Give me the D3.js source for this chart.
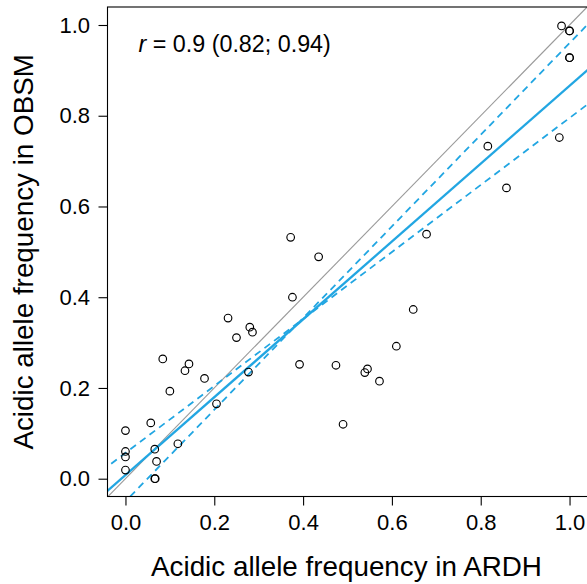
<!DOCTYPE html>
<html>
<head>
<meta charset="utf-8">
<script src="https://cdn.jsdelivr.net/npm/d3@7"></script>
<style>
  html, body { margin: 0; padding: 0; background: #fff; }
  svg { display: block; font-family: "Liberation Sans", Arial, Helvetica, sans-serif; }
</style>
</head>
<body>
<svg id="chart" width="587" height="584"></svg>
<script>
// ---- data ----
const ardh = [0.982, 1.0, 1.0, 1.0, 1.0, 0.816, 0.977, 0.858, 0.678, 0.372,
              0.435, 0.376, 0.648, 0.231, 0.280, 0.286, 0.250, 0.610, 0.084, 0.143,
              0.392, 0.134, 0.474, 0.545, 0.539, 0.277, 0.178, 0.572, 0.100, 0.205,
              0.490, 0.057, 0.0, 0.118, 0.066, 0.0, 0.0, 0.070, 0.0, 0.066, 0.067];
const obsm = [0.998, 0.987, 0.987, 0.928, 0.928, 0.733, 0.752, 0.641, 0.539, 0.532,
              0.489, 0.400, 0.373, 0.354, 0.334, 0.323, 0.311, 0.292, 0.264, 0.253,
              0.252, 0.238, 0.250, 0.242, 0.234, 0.235, 0.221, 0.215, 0.193, 0.165,
              0.120, 0.123, 0.106, 0.077, 0.065, 0.060, 0.048, 0.038, 0.019, 0.0, 0.0];
// fitted line and interval lines: [intercept, slope]
const fitLine = [0.008, 0.858];
const lowerSlopeLine = [0.0567, 0.7384];
const upperSlopeLine = [-0.050, 1.010];
const identityLine = [0, 1];
const xTicks = [0, 0.2, 0.4, 0.6, 0.8, 1.0];
const yTicks = [0, 0.2, 0.4, 0.6, 0.8, 1.0];
const xDomain = [-0.04, 1.04];
const yDomain = [-0.04, 1.04];
const rLabel = ["r", " = 0.9 (0.82; 0.94)"];
const xTitle = "Acidic allele frequency in ARDH";
const yTitle = "Acidic allele frequency in OBSM";

// ---- drawing ----
const svg = d3.select("#chart");
const x = d3.scaleLinear().domain(xDomain).range([107.7, 587.3]);
const y = d3.scaleLinear().domain(yDomain).range([496.85, 6.85]);
const blue = "#22a6e2";

svg.append("defs").append("clipPath").attr("id", "plotclip")
  .append("rect")
  .attr("x", x(xDomain[0])).attr("y", y(yDomain[1]))
  .attr("width", x(xDomain[1]) - x(xDomain[0]))
  .attr("height", y(yDomain[0]) - y(yDomain[1]));

const plot = svg.append("g").attr("clip-path", "url(#plotclip)");

function drawLine(p, opts) {
  const xs = [xDomain[0] - 0.1, xDomain[1] + 0.1];
  const l = plot.append("line")
    .attr("x1", x(xs[0])).attr("y1", y(p[0] + p[1] * xs[0]))
    .attr("x2", x(xs[1])).attr("y2", y(p[0] + p[1] * xs[1]))
    .attr("stroke", opts.color)
    .attr("stroke-width", opts.width);
  if (opts.dash) l.attr("stroke-dasharray", opts.dash);
}

drawLine(identityLine, { color: "#9a9a9a", width: 1.1 });
drawLine(lowerSlopeLine, { color: blue, width: 1.8, dash: "7,5" });
drawLine(upperSlopeLine, { color: blue, width: 1.8, dash: "7,5" });
drawLine(fitLine, { color: blue, width: 2.3 });

plot.selectAll("circle.pt")
  .data(ardh.map((v, i) => [v, obsm[i]]))
  .enter().append("circle")
  .attr("class", "pt")
  .attr("cx", d => x(d[0]))
  .attr("cy", d => y(d[1]))
  .attr("r", 3.8)
  .attr("fill", "none")
  .attr("stroke", "#000")
  .attr("stroke-width", 1.15);

// box
svg.append("rect")
  .attr("x", 107.5).attr("y", 7)
  .attr("width", x(xDomain[1]) - 107.5 + 2)
  .attr("height", 496.5 - 7)
  .attr("fill", "none").attr("stroke", "#000").attr("stroke-width", 1.1);

// axes
const fmt = d3.format(".1f");
const xAxis = svg.append("g")
  .attr("transform", `translate(0,${496.5})`)
  .call(d3.axisBottom(x).tickValues(xTicks).tickFormat(fmt).tickSize(9).tickPadding(9));
const yAxis = svg.append("g")
  .attr("transform", `translate(${107.5},0)`)
  .call(d3.axisLeft(y).tickValues(yTicks).tickFormat(fmt).tickSize(9).tickPadding(8.5));
[xAxis, yAxis].forEach(a => {
  a.select(".domain").remove();
  a.selectAll(".tick line").attr("stroke", "#000").attr("stroke-width", 1.1);
  a.selectAll(".tick text")
    .attr("fill", "#000")
    .style("font-size", "22px")
    .style("font-family", "'Liberation Sans', Arial, sans-serif");
});

// correlation annotation
const ann = svg.append("text")
  .attr("x", 138.5).attr("y", 52)
  .attr("fill", "#000")
  .style("font-size", "23.3px");
ann.append("tspan").style("font-style", "italic").text(rLabel[0]);
ann.append("tspan").text(rLabel[1]);

// titles
svg.append("text")
  .attr("x", (107.7 + 587.3) / 2 - 1).attr("y", 576)
  .attr("text-anchor", "middle")
  .attr("fill", "#000")
  .style("font-size", "27.8px")
  .text(xTitle);
svg.append("text")
  .attr("transform", `translate(33.3,${(496.85 + 6.85) / 2}) rotate(-90)`)
  .attr("text-anchor", "middle")
  .attr("fill", "#000")
  .style("font-size", "27.8px")
  .text(yTitle);
</script>
</body>
</html>
